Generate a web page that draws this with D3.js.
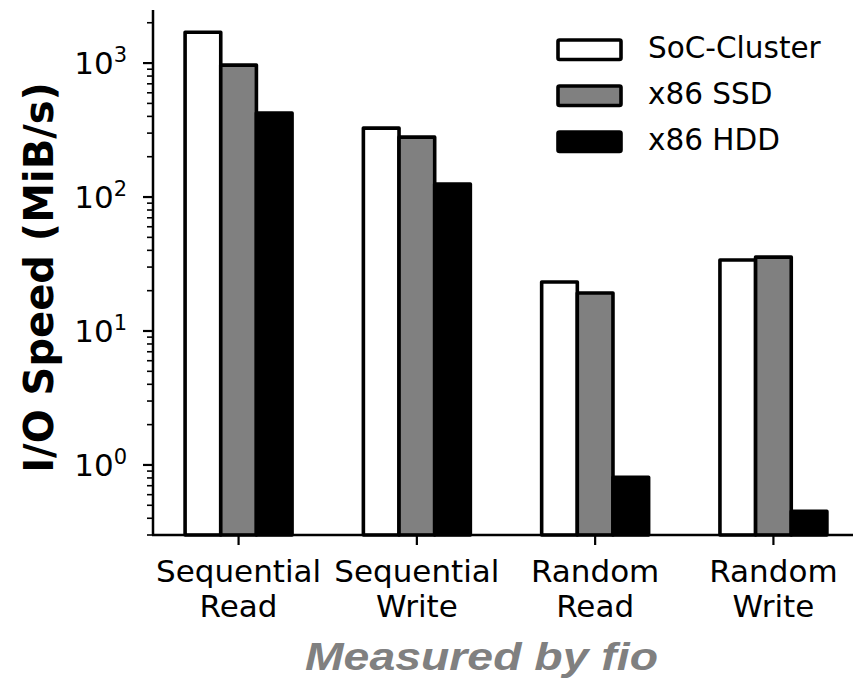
<!DOCTYPE html>
<html>
<head>
<meta charset="utf-8">
<script src="https://cdn.jsdelivr.net/npm/d3@7"></script>
<style>
  body { margin: 0; background: #fff; }
  svg text { font-family: "DejaVu Sans", sans-serif; }
</style>
</head>
<body>
<svg width="853" height="681"></svg>
<script>
// data (MiB/s, log scale)
const categories = [["Sequential", "Read"], ["Sequential", "Write"], ["Random", "Read"], ["Random", "Write"]];
const series = ["SoC-Cluster", "x86 SSD", "x86 HDD"];
const socCluster = [1700, 327, 23.2, 33.9];
const x86Ssd = [966, 280, 19.2, 35.6];
const x86Hdd = [424, 125, 0.81, 0.45];
const fills = ["#ffffff", "#808080", "#000000"];
const yTicks = [1, 10, 100, 1000];

const values = [socCluster, x86Ssd, x86Hdd];

const svg = d3.select("svg");
const mLeft = 153, mRight = 859, mTop = 10, mBottom = 535;

const y = d3.scaleLog().domain([0.3, 2490]).range([mBottom, mTop]);

const x = d3.scaleBand()
    .domain(d3.range(categories.length))
    .range([mLeft, mRight])
    .paddingInner(0.4)
    .paddingOuter(0.18);

const xs = d3.scaleBand()
    .domain(d3.range(series.length))
    .range([0, x.bandwidth()]);

// bars
series.forEach((s, si) => {
    svg.append("g")
        .selectAll("rect")
        .data(values[si])
        .enter()
        .append("rect")
        .attr("x", (d, i) => x(i) + xs(si))
        .attr("y", d => y(d))
        .attr("width", xs.bandwidth())
        .attr("height", d => mBottom - y(d))
        .attr("fill", fills[si])
        .attr("stroke", "#000")
        .attr("stroke-width", 3.6)
        .attr("stroke-linejoin", "round");
});

// y axis
const minor = [];
for (let e = -1; e <= 3; e++) {
    for (let m = 2; m <= 9; m++) {
        const v = m * Math.pow(10, e);
        if (v >= 0.3 && v <= 2490) minor.push(v);
    }
}
const yAxis = svg.append("g").attr("transform", `translate(${mLeft},0)`);
yAxis.append("line")
    .attr("y1", mTop).attr("y2", mBottom)
    .attr("stroke", "#000").attr("stroke-width", 2.5);
yAxis.selectAll(".minor")
    .data(minor)
    .enter().append("line")
    .attr("x1", 0).attr("x2", -6)
    .attr("y1", d => y(d)).attr("y2", d => y(d))
    .attr("stroke", "#000").attr("stroke-width", 1.6);
yAxis.selectAll(".major")
    .data(yTicks)
    .enter().append("line")
    .attr("x1", 0).attr("x2", -10)
    .attr("y1", d => y(d)).attr("y2", d => y(d))
    .attr("stroke", "#000").attr("stroke-width", 2.2);
const lab = yAxis.selectAll(".lab")
    .data(yTicks)
    .enter().append("text")
    .attr("x", -26)
    .attr("y", d => y(d) + 11)
    .attr("text-anchor", "end")
    .attr("font-size", 31);
lab.append("tspan").text("10");
lab.append("tspan")
    .attr("dy", -12)
    .attr("font-size", 21)
    .text(d => Math.round(Math.log10(d)));

// x axis
const xAxis = svg.append("g");
xAxis.append("line")
    .attr("x1", mLeft - 1).attr("x2", mRight)
    .attr("y1", mBottom).attr("y2", mBottom)
    .attr("stroke", "#000").attr("stroke-width", 2.5);
const xt = xAxis.selectAll(".tick")
    .data(categories)
    .enter().append("g")
    .attr("transform", (d, i) => `translate(${x(i) + x.bandwidth() / 2},${mBottom})`);
xt.append("line").attr("y2", 10).attr("stroke", "#000").attr("stroke-width", 2.2);
xt.append("text")
    .attr("text-anchor", "middle")
    .attr("font-size", 31)
    .selectAll("tspan")
    .data(d => d)
    .enter().append("tspan")
    .attr("x", 0)
    .attr("y", (d, i) => 47 + i * 35)
    .text(d => d);

// axis titles
svg.append("text")
    .attr("transform", "translate(53,277.5) rotate(-90)")
    .attr("text-anchor", "middle")
    .attr("font-size", 40)
    .attr("font-weight", "bold")
    .text("I/O Speed (MiB/s)");

svg.append("text")
    .attr("x", 305)
    .attr("y", 670)
    .attr("font-size", 38)
    .attr("font-weight", "bold")
    .attr("font-style", "italic")
    .attr("fill", "#808080")
    .attr("textLength", 353)
    .attr("lengthAdjust", "spacingAndGlyphs")
    .style("font-family", "'Liberation Sans', Arial, sans-serif")
    .text("Measured by fio");

// legend
const legend = svg.append("g").attr("transform", "translate(558,40)");
const li = legend.selectAll("g")
    .data(series)
    .enter().append("g")
    .attr("transform", (d, i) => `translate(0,${i * 46})`);
li.append("rect")
    .attr("width", 63).attr("height", 19.5)
    .attr("rx", 1.5)
    .attr("fill", (d, i) => fills[i])
    .attr("stroke", "#000").attr("stroke-width", 3.6)
    .attr("stroke-linejoin", "round");
li.append("text")
    .attr("x", 90)
    .attr("y", 18)
    .attr("font-size", 29.5)
    .text(d => d);
</script>
</body>
</html>
